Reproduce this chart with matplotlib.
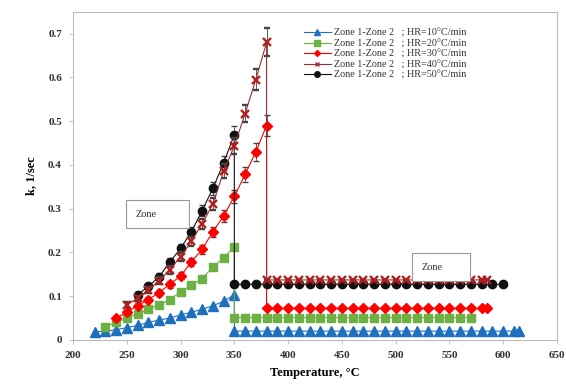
import matplotlib
matplotlib.use('Agg')
import matplotlib.pyplot as plt
from matplotlib.patches import Rectangle
from matplotlib.lines import Line2D

plt.rcParams['font.family'] = ['Liberation Serif', 'DejaVu Serif']

# rising part (zone 1) and flat part (zone 2) for each heating rate
t10_up = [220, 230, 240, 250, 260, 270, 280, 290, 300, 310, 320, 330, 340, 350]
k10_up = [0.018, 0.02, 0.023, 0.028, 0.033, 0.04, 0.045, 0.05, 0.057, 0.063, 0.07, 0.078, 0.088, 0.103]
t10_flat = [350, 360, 370, 380, 390, 400, 410, 420, 430, 440, 450, 460, 470, 480, 490, 500,
            510, 520, 530, 540, 550, 560, 570, 580, 590, 600, 610, 615]
k10_flat = [0.02] * 28

t20_up = [230, 240, 250, 260, 270, 280, 290, 300, 310, 320, 330, 340, 350]
k20_up = [0.03, 0.04, 0.05, 0.06, 0.07, 0.08, 0.092, 0.11, 0.125, 0.14, 0.166, 0.187, 0.213]
t20_flat = [350, 360, 370, 380, 390, 400, 410, 420, 430, 440, 450, 460, 470, 480, 490, 500,
            510, 520, 530, 540, 550, 560, 570]
k20_flat = [0.051] * 23

t30_up = [240, 250, 260, 270, 280, 290, 300, 310, 320, 330, 340, 350, 360, 370, 380]
k30_up = [0.05, 0.063, 0.078, 0.092, 0.108, 0.127, 0.146, 0.178, 0.207, 0.247, 0.283, 0.328, 0.378, 0.43, 0.49]
e30_up = [0.005, 0.005, 0.006, 0.006, 0.007, 0.008, 0.008, 0.009, 0.01, 0.012, 0.013, 0.015, 0.017, 0.02, 0.023]
t30_flat = [380, 390, 400, 410, 420, 430, 440, 450, 460, 470, 480, 490, 500, 510, 520, 530,
            540, 550, 560, 570, 580, 585]
k30_flat = [0.072] * 22

t40_up = [250, 260, 270, 280, 290, 300, 310, 320, 330, 340, 350, 360, 370, 380]
k40_up = [0.08, 0.095, 0.113, 0.135, 0.16, 0.19, 0.225, 0.265, 0.31, 0.385, 0.443, 0.517, 0.595, 0.68]
e40_up = [0.006, 0.006, 0.007, 0.008, 0.009, 0.01, 0.011, 0.012, 0.014, 0.016, 0.018, 0.02, 0.024, 0.032]
t40_flat = [380, 390, 400, 410, 420, 430, 440, 450, 460, 470, 480, 490, 500, 510, 520, 530,
            540, 550, 560, 570, 580, 585]
k40_flat = [0.137] * 22

t50_up = [260, 270, 280, 290, 300, 310, 320, 330, 340, 350]
k50_up = [0.103, 0.122, 0.144, 0.178, 0.209, 0.247, 0.295, 0.346, 0.404, 0.469]
e50_up = [0.007, 0.008, 0.008, 0.009, 0.01, 0.011, 0.013, 0.014, 0.016, 0.02]
t50_flat = [350, 360, 370, 380, 390, 400, 410, 420, 430, 440, 450, 460, 470, 480, 490, 500,
            510, 520, 530, 540, 550, 560, 570, 580, 590, 600]
k50_flat = [0.127] * 26

labels = ['Zone 1-Zone 2   ; HR=10\u00b0C/min', 'Zone 1-Zone 2   ; HR=20\u00b0C/min',
          'Zone 1-Zone 2   ; HR=30\u00b0C/min', 'Zone 1-Zone 2   ; HR=40\u00b0C/min',
          'Zone 1-Zone 2   ; HR=50\u00b0C/min']
colors = ['#1F6FBF', '#6DB043', '#FF0000', '#9B2C2C', '#111111']

fig = plt.figure(figsize=(5.66, 3.92), dpi=100)
ax = fig.add_axes([0.129, 0.133, 0.855, 0.837])

ax.plot(t10_up + t10_flat, k10_up + k10_flat, color=colors[0], lw=0.8, marker='^', ms=6.8, zorder=3)
ax.plot(t20_up + t20_flat, k20_up + k20_flat, color=colors[1], lw=0.8, marker='s', ms=5.6, zorder=3)
ax.errorbar(t30_up + t30_flat, k30_up + k30_flat, yerr=e30_up + [0] * len(t30_flat),
            color=colors[2], ecolor='#444444', elinewidth=0.6, capsize=2.5, lw=0.8,
            marker='D', ms=5.3, zorder=3)
ax.errorbar(t40_up + t40_flat, k40_up + k40_flat, yerr=e40_up + [0] * len(t40_flat),
            color=colors[3], ecolor='#444444', elinewidth=0.6, capsize=2.5, lw=0.8,
            marker='x', ms=5.5, mew=1.7, mec='#B02020', zorder=4)
ax.errorbar(t50_up + t50_flat, k50_up + k50_flat, yerr=e50_up + [0] * len(t50_flat),
            color=colors[4], ecolor='#444444', elinewidth=0.6, capsize=2.5, lw=0.8,
            marker='o', ms=6, zorder=3)

ax.set_xlim(200, 650)
ax.set_ylim(0, 0.75)
ax.set_xticks(range(200, 651, 50))
ax.set_yticks([0, 0.1, 0.2, 0.3, 0.4, 0.5, 0.6, 0.7])
ax.set_yticklabels(['0', '0.1', '0.2', '0.3', '0.4', '0.5', '0.6', '0.7'])
ax.tick_params(labelsize=8, colors='#333333', length=3, width=0.6)
for lab in ax.get_xticklabels() + ax.get_yticklabels():
    lab.set_fontweight('bold')
for s in ax.spines.values():
    s.set_color('#BBBBBB')
    s.set_linewidth(0.8)
ax.tick_params(axis='both', color='#BBBBBB', pad=5)

ax.set_xlabel('Temperature, \u00b0C', fontsize=9, fontweight='bold', labelpad=5)
ax.set_ylabel('k, 1/sec', fontsize=9, fontweight='bold', labelpad=8)

handles = [Line2D([], [], color=colors[0], marker='^', ms=4, lw=0.8),
           Line2D([], [], color=colors[1], marker='s', ms=4, lw=0.8),
           Line2D([], [], color=colors[2], marker='D', ms=3, lw=0.8),
           Line2D([], [], color=colors[3], marker='x', ms=3.5, mew=1, lw=0.8),
           Line2D([], [], color=colors[4], marker='o', ms=4, lw=0.8)]
leg = ax.legend(handles, labels, loc='upper left', bbox_to_anchor=(0.463, 0.97), frameon=False,
                fontsize=7.3, handlelength=2.6, handletextpad=0.3, labelspacing=0.12, borderpad=0.2)
for txt in leg.get_texts():
    txt.set_color('#333333')

# zone boxes
for x0, y0, w, h, tx in [(249, 0.255, 59, 0.064, 258), (515, 0.135, 54, 0.063, 524)]:
    ax.add_patch(Rectangle((x0, y0), w, h, facecolor='white', edgecolor='#999999', lw=0.8, zorder=5))
    ax.text(tx, y0 + h / 2, 'Zone', fontsize=7.5, va='center', ha='left', color='#333333', zorder=6)

fig.savefig('out.png', dpi=100)
